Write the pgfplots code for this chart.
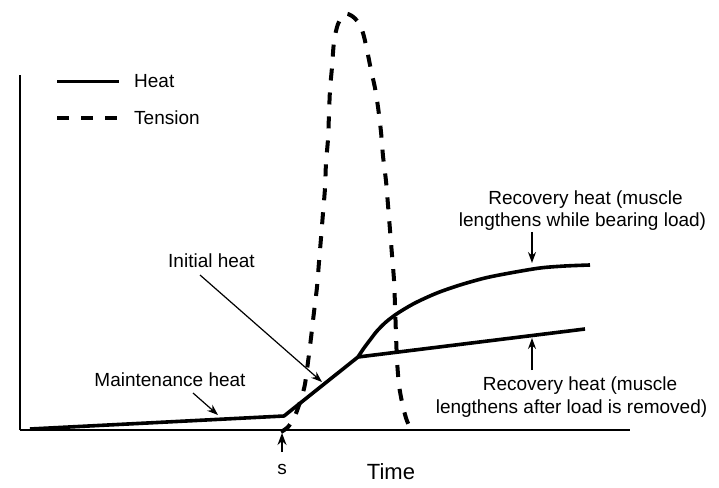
\documentclass[border=0pt]{standalone}
\usepackage{pgfplots}
\pgfplotsset{compat=1.18}
\usepackage{fontspec}
\setmainfont{Liberation Sans}
\usetikzlibrary{arrows.meta}
\newcommand{\lbl}{\fontsize{19}{22}\selectfont}
\begin{document}
\begin{tikzpicture}
\begin{axis}[
  x=1pt, y=1pt,
  xmin=20, xmax=630, ymin=0, ymax=355,
  axis lines=left,
  axis line style={-, line width=1.8pt, black},
  xtick=\empty, ytick=\empty,
  clip=false,
  legend image code/.code={\draw[#1] (0pt,0pt) -- (62pt,0pt);},
  legend style={draw=none, fill=none, at={(axis cs:55,358)}, anchor=north west,
    inner sep=0pt, row sep=18pt, font=\lbl, nodes={inner sep=2pt},
    /tikz/every odd column/.append style={column sep=11pt}},
  legend cell align=left,
]
% Heat: maintenance + initial heat
\addplot[black, line width=3.6pt, line join=round] coordinates {
  (30,1) (284,14) (358,73)
};
\addlegendentry{Heat}
% Tension
\addplot[black, line width=4pt, dash pattern=on 12pt off 12pt, smooth] coordinates {
  (281,-2) (288,3) (294,12) (298,22) (302,34) (305,46) (308,68) (311,92)
  (314,118) (317,143) (319,168) (321,192) (323,217) (325,242) (326,267)
  (328,291) (329,316) (330,340) (332,363) (334,388) (338,406) (345,416)
  (352,414) (358,408) (363,397) (367,380) (371,360) (375,342) (378,323)
  (381,298) (383,274) (386,249) (388,225) (390,200) (392,175) (394,150)
  (395,125) (396,95) (397,70) (399,45) (402,28) (406,12) (410,3) (415,-1)
};
\addlegendentry{Tension}
% Recovery heat, muscle bearing load
\addplot[black, line width=3.6pt, smooth, forget plot] coordinates {
  (358,73) (364,82) (370,90) (377,99) (386,108) (398,117) (415,127)
  (437,137) (460,145) (485,152) (510,157) (540,162) (565,164) (590,165)
};
% Recovery heat, load removed
\addplot[black, line width=3.6pt, forget plot] coordinates {
  (358,73) (585,101)
};

% annotations
\draw[-{Stealth[length=11pt,width=8pt]}, line width=1.2pt] (axis cs:200,155) -- (axis cs:322,48);
\draw[-{Stealth[length=11pt,width=8pt]}, line width=1.2pt] (axis cs:193,37) -- (axis cs:218,15);
\draw[-{Stealth[length=11pt,width=8pt]}, line width=1.2pt] (axis cs:532,198) -- (axis cs:532,167);
\draw[-{Stealth[length=11pt,width=8pt]}, line width=1.2pt] (axis cs:532,60) -- (axis cs:532,92);
\draw[-{Stealth[length=12pt,width=9pt]}, line width=1.6pt] (axis cs:282,-22) -- (axis cs:282,-3);

\node[font=\lbl] at (axis cs:211.5,169) {Initial heat};
\node[font=\lbl] at (axis cs:170,50) {Maintenance heat};
\node[font=\lbl, anchor=base] at (axis cs:585.5,225) {Recovery heat (muscle};
\node[font=\lbl, anchor=base] at (axis cs:582.5,203) {lengthens while bearing load)};
\node[font=\lbl, anchor=base] at (axis cs:580,40) {Recovery heat (muscle};
\node[font=\lbl, anchor=base] at (axis cs:571.5,17) {lengthens after load is removed)};
\node[font=\lbl, anchor=base] at (axis cs:282,-44) {s};
\node[font=\fontsize{22}{26}\selectfont, anchor=base] at (axis cs:391,-49) {Time};

\coordinate (bbll) at (axis cs:0,-57);
\coordinate (bbur) at (axis cs:719,430);
\end{axis}
\pgfresetboundingbox
\useasboundingbox (bbll) rectangle (bbur);
\end{tikzpicture}
\end{document}
